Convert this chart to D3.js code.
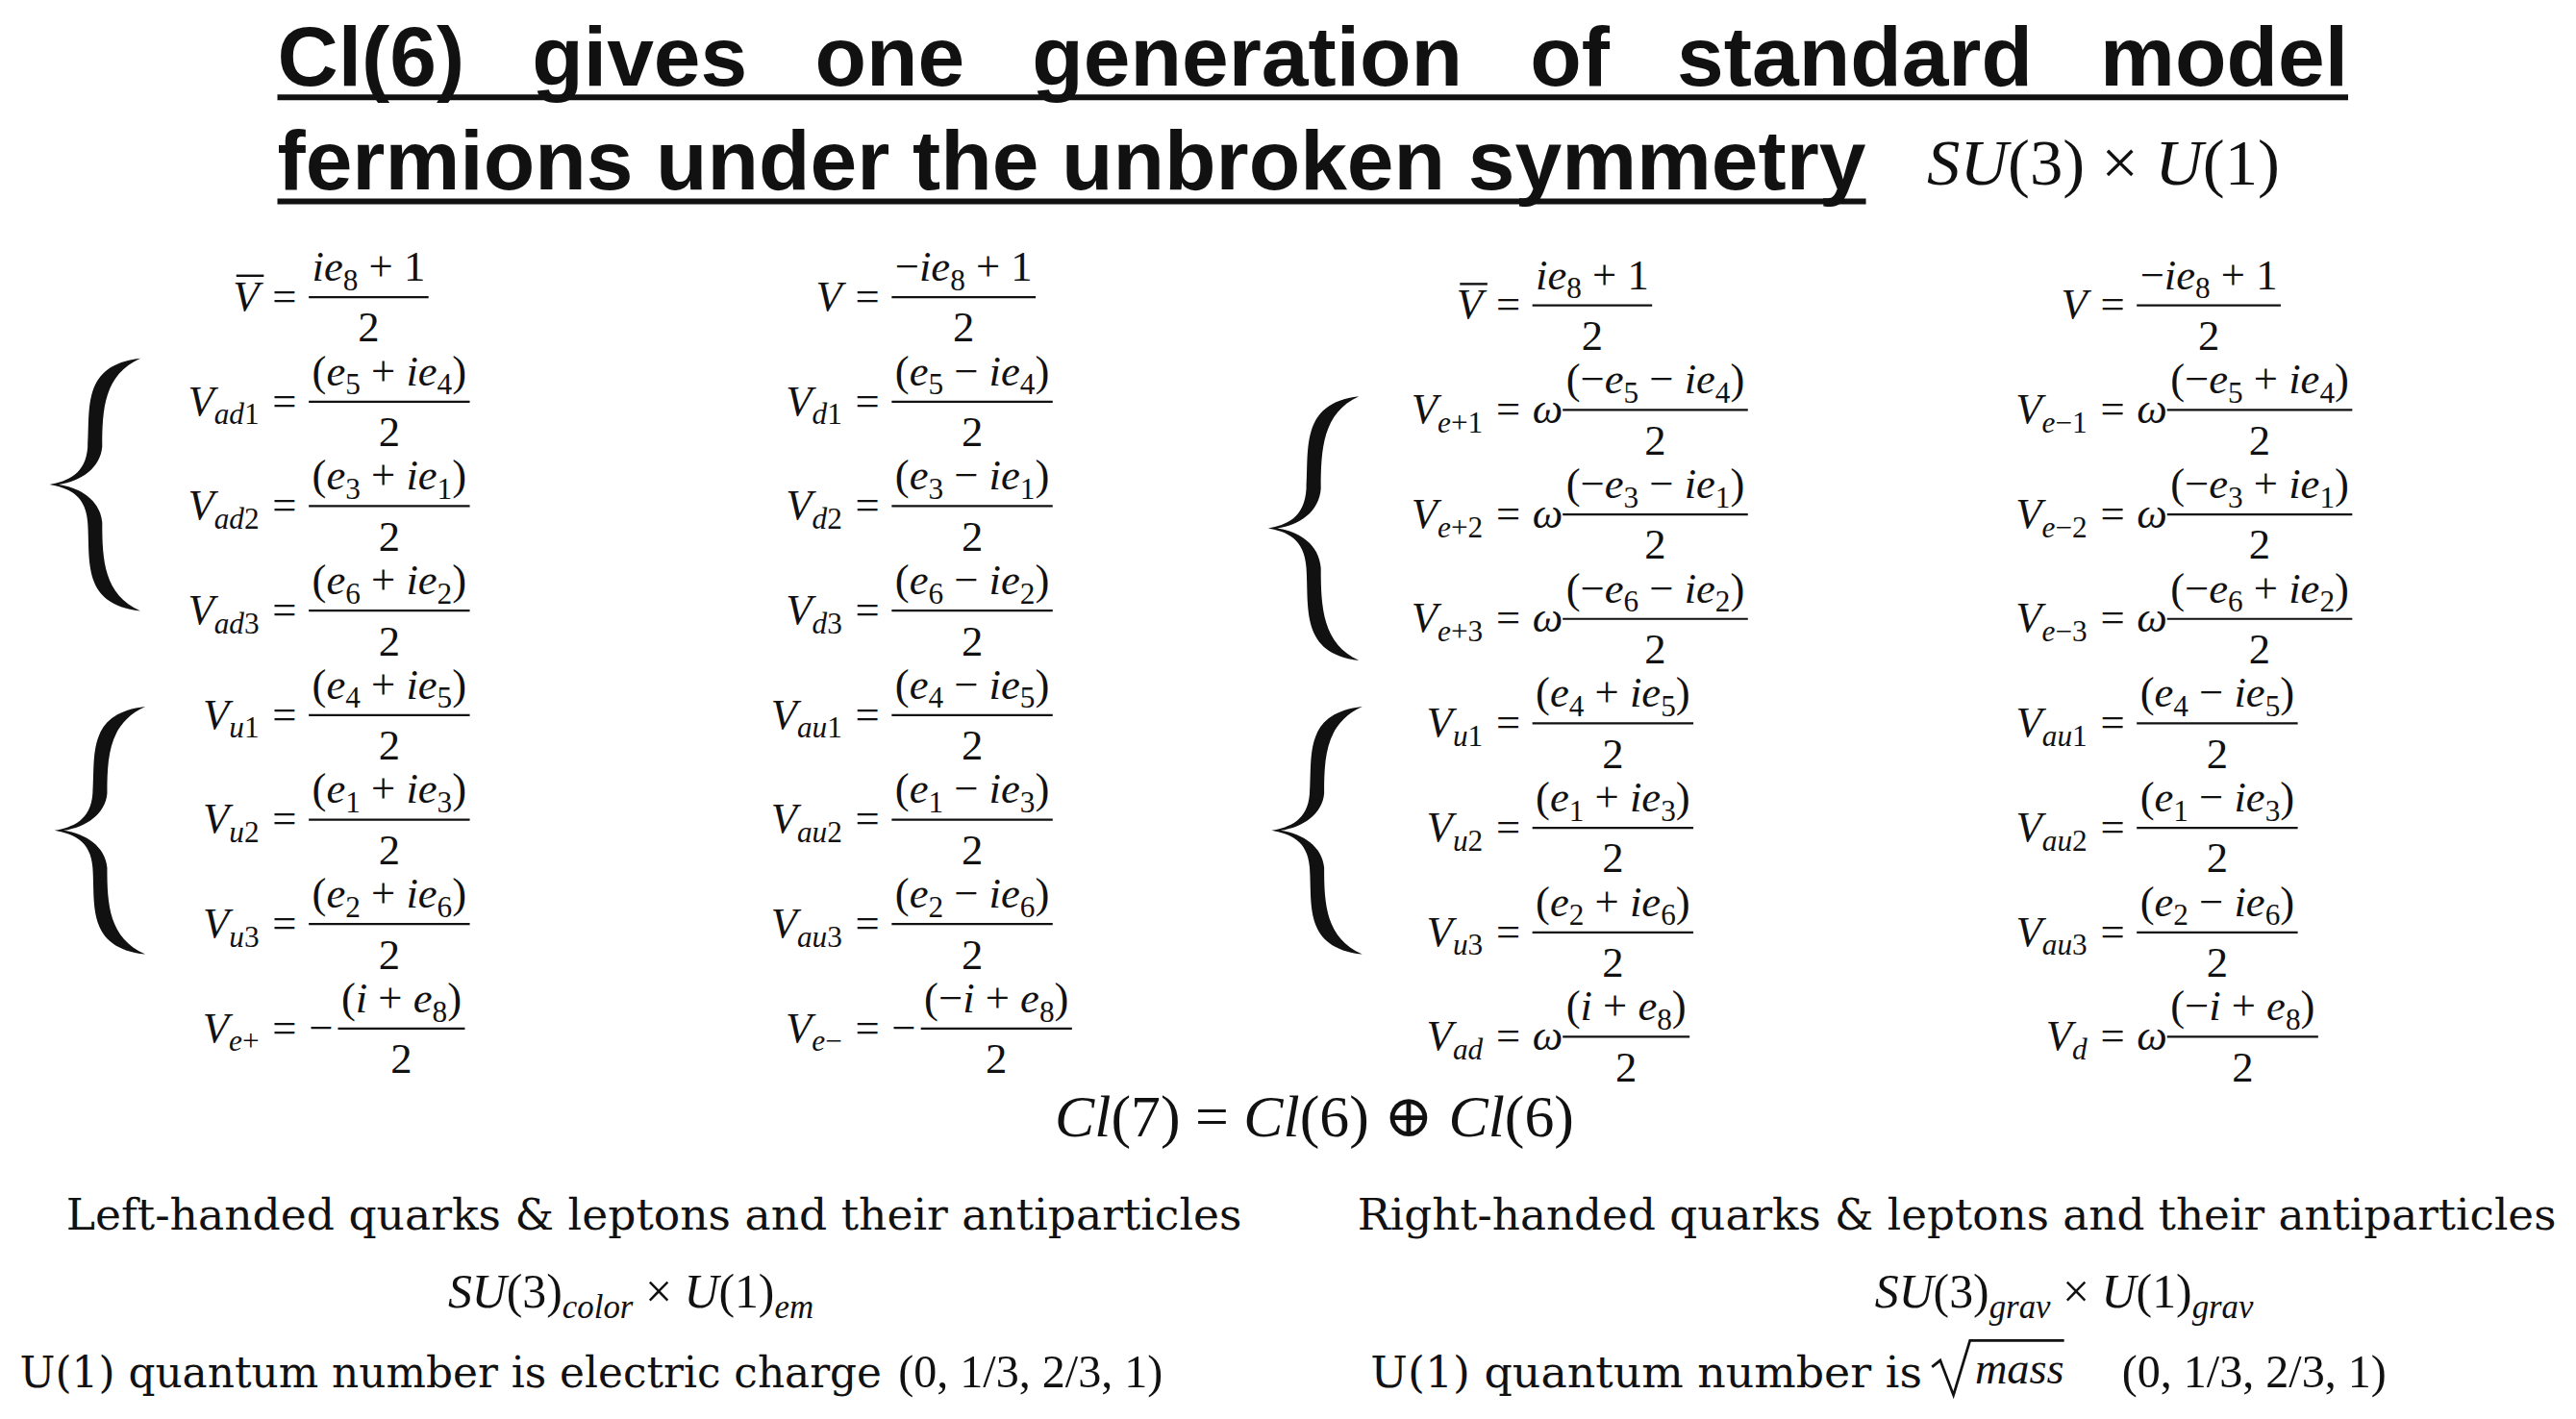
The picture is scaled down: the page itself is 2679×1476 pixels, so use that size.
<!DOCTYPE html>
<html>
<head>
<meta charset="utf-8">
<script src="https://cdn.jsdelivr.net/npm/d3@7"></script>
<style>
  body { margin: 0; background: #fff; }
  text { fill: #111; }
</style>
</head>
<body>
<svg id="slide"></svg>
<script>
// ---- data ----
var col1Names = ["~V", "V_{ad1}", "V_{ad2}", "V_{ad3}", "V_{u1}", "V_{u2}", "V_{u3}", "V_{e+}"];
var col1Pre   = ["", "", "", "", "", "", "", "−"];
var col1Num   = ["ie_8 + 1", "(e_5 + ie_4)", "(e_3 + ie_1)", "(e_6 + ie_2)", "(e_4 + ie_5)", "(e_1 + ie_3)", "(e_2 + ie_6)", "(i + e_8)"];

var col2Names = ["V", "V_{d1}", "V_{d2}", "V_{d3}", "V_{au1}", "V_{au2}", "V_{au3}", "V_{e−}"];
var col2Pre   = ["", "", "", "", "", "", "", "−"];
var col2Num   = ["−ie_8 + 1", "(e_5 − ie_4)", "(e_3 − ie_1)", "(e_6 − ie_2)", "(e_4 − ie_5)", "(e_1 − ie_3)", "(e_2 − ie_6)", "(−i + e_8)"];

var col3Names = ["~V", "V_{e+1}", "V_{e+2}", "V_{e+3}", "V_{u1}", "V_{u2}", "V_{u3}", "V_{ad}"];
var col3Pre   = ["", "ω", "ω", "ω", "", "", "", "ω"];
var col3Num   = ["ie_8 + 1", "(−e_5 − ie_4)", "(−e_3 − ie_1)", "(−e_6 − ie_2)", "(e_4 + ie_5)", "(e_1 + ie_3)", "(e_2 + ie_6)", "(i + e_8)"];

var col4Names = ["V", "V_{e−1}", "V_{e−2}", "V_{e−3}", "V_{au1}", "V_{au2}", "V_{au3}", "V_d"];
var col4Pre   = ["", "ω", "ω", "ω", "", "", "", "ω"];
var col4Num   = ["−ie_8 + 1", "(−e_5 + ie_4)", "(−e_3 + ie_1)", "(−e_6 + ie_2)", "(e_4 − ie_5)", "(e_1 − ie_3)", "(e_2 − ie_6)", "(−i + e_8)"];

var titleLines = ["Cl(6) gives one generation of standard model", "fermions under the unbroken symmetry"];
var bottomLeft = ["Left-handed quarks & leptons and their antiparticles", "SU(3)_{color} × U(1)_{em}", "U(1) quantum number is electric charge", "(0, 1/3, 2/3, 1)"];
var bottomRight = ["Right-handed quarks & leptons and their antiparticles", "SU(3)_{grav} × U(1)_{grav}", "U(1) quantum number is", "(0, 1/3, 2/3, 1)"];

var W = 2679, H = 1476, S = W / 1560;
var MATH = "'Liberation Serif', 'DejaVu Serif', serif";

var svg = d3.select("#slide").attr("width", W).attr("height", H);
var g = svg.append("g").attr("transform", "scale(" + S + ")");

// write a math string into a text element: letters italic, "_" subscripts
function mathText(sel, str, size) {
  var off = 0, i = 0;
  function put(s, sub) {
    var parts = s.match(/[A-Za-zα-ω]+|[^A-Za-zα-ω]+/g) || [];
    parts.forEach(function(p, k) {
      var t = sel.append("tspan").text(p)
        .attr("font-style", /[A-Za-zα-ω]/.test(p) ? "italic" : "normal")
        .attr("font-size", sub ? size * 0.7 : size);
      var want = sub ? size * 0.22 : 0;
      if (k === 0 && want !== off) { t.attr("dy", want - off); off = want; }
    });
  }
  while (i < str.length) {
    if (str[i] === "_") {
      var s;
      if (str[i + 1] === "{") { var j = str.indexOf("}", i); s = str.slice(i + 2, j); i = j + 1; }
      else { s = str[i + 1]; i += 2; }
      put(s, true);
    } else {
      var j2 = str.indexOf("_", i); if (j2 < 0) j2 = str.length;
      put(str.slice(i, j2), false); i = j2;
    }
  }
  return sel;
}

// ---- title ----
var titleY = d3.scaleLinear().domain([0, 1]).range([52, 115]);
var titleW = [1422 - 168, 1130 - 168];
titleLines.forEach(function(t, k) {
  var words = t.split(" ");
  var ws = words.map(function(w) {
    return g.append("text").attr("y", titleY(k))
      .attr("font-family", "'Liberation Sans', Arial, sans-serif").attr("font-weight", "bold")
      .attr("font-size", 51).text(w);
  });
  var lens = ws.map(function(s) { return s.node().getComputedTextLength(); });
  var total = d3.sum(lens);
  var scale = Math.min(1, titleW[k] / (total + 12 * (words.length - 1)));
  var gap = (titleW[k] - total * scale) / (words.length - 1);
  var x = 168;
  ws.forEach(function(s, i) {
    s.attr("x", x);
    if (scale < 1) s.attr("textLength", lens[i] * scale).attr("lengthAdjust", "spacingAndGlyphs");
    x += lens[i] * scale + gap;
  });
  g.append("line").attr("x1", 168).attr("x2", 168 + titleW[k])
    .attr("y1", titleY(k) + 7).attr("y2", titleY(k) + 7).attr("stroke", "#111").attr("stroke-width", 3.5);
});
mathText(g.append("text").attr("x", 1167).attr("y", 112).attr("font-family", MATH), "SU(3) × U(1)", 40);

// ---- equation columns ----
var cols = [
  { names: col1Names, pre: col1Pre, num: col1Num, eq: 165, y0: 0 },
  { names: col2Names, pre: col2Pre, num: col2Num, eq: 518, y0: 0 },
  { names: col3Names, pre: col3Pre, num: col3Num, eq: 906, y0: 5 },
  { names: col4Names, pre: col4Pre, num: col4Num, eq: 1272, y0: 5 }
];
var rowY = d3.scaleLinear().domain([0, 7]).range([180, 623]);
var FS = 26;

cols.forEach(function(c) {
  c.names.forEach(function(n, r) {
    var cy = rowY(r) + c.y0;
    var over = n[0] === "~"; if (over) n = n.slice(1);
    var lhs = g.append("text").attr("x", c.eq - 8).attr("y", cy + 8)
      .attr("text-anchor", "end").attr("font-family", MATH);
    mathText(lhs, n, FS);
    if (over) {
      var bb = lhs.node().getBBox();
      g.append("line").attr("x1", bb.x + 2).attr("x2", bb.x + bb.width)
        .attr("y1", cy - 13).attr("y2", cy - 13).attr("stroke", "#111").attr("stroke-width", 1.4);
    }
    g.append("text").attr("x", c.eq).attr("y", cy + 8).attr("font-family", MATH)
      .attr("font-size", FS).text("=");
    var x = c.eq + 22;
    if (c.pre[r]) {
      var p = g.append("text").attr("x", x).attr("y", cy + 8).attr("font-family", MATH)
        .attr("font-size", FS).attr("font-style", c.pre[r] === "ω" ? "italic" : "normal").text(c.pre[r]);
      x += p.node().getComputedTextLength() + (c.pre[r] === "ω" ? 0 : 3);
    }
    var num = g.append("text").attr("x", x + 2).attr("y", cy - 10).attr("font-family", MATH);
    mathText(num, c.num[r], FS);
    var w = num.node().getComputedTextLength() + 4;
    g.append("line").attr("x1", x).attr("x2", x + w).attr("y1", cy).attr("y2", cy)
      .attr("stroke", "#111").attr("stroke-width", 1.3);
    g.append("text").attr("x", x + w / 2).attr("y", cy + 27).attr("text-anchor", "middle")
      .attr("font-family", MATH).attr("font-size", FS).text("2");
  });
});

// ---- braces ----
function brace(x, y1, y2) {
  var m = (y1 + y2) / 2, w = 55, h = y2 - y1;
  var d = "M" + (x + w) + "," + y1 +
    " C" + (x + w * 0.35) + "," + (y1 + 4) + " " + (x + w * 0.45) + "," + (y1 + h * 0.2) + " " + (x + w * 0.42) + "," + (y1 + h * 0.35) +
    " C" + (x + w * 0.4) + "," + (m - 6) + " " + (x + w * 0.2) + "," + (m - 2) + " " + x + "," + m +
    " C" + (x + w * 0.2) + "," + (m + 2) + " " + (x + w * 0.4) + "," + (m + 6) + " " + (x + w * 0.42) + "," + (y2 - h * 0.35) +
    " C" + (x + w * 0.45) + "," + (y2 - h * 0.2) + " " + (x + w * 0.35) + "," + (y2 - 4) + " " + (x + w) + "," + y2 +
    " C" + (x + w * 0.6) + "," + (y2 - 10) + " " + (x + w * 0.58) + "," + (y2 - h * 0.2) + " " + (x + w * 0.58) + "," + (y2 - h * 0.35) +
    " C" + (x + w * 0.56) + "," + (m + 10) + " " + (x + w * 0.35) + "," + (m + 2) + " " + (x + w * 0.1) + "," + m +
    " C" + (x + w * 0.35) + "," + (m - 2) + " " + (x + w * 0.56) + "," + (m - 10) + " " + (x + w * 0.58) + "," + (y1 + h * 0.35) +
    " C" + (x + w * 0.58) + "," + (y1 + h * 0.2) + " " + (x + w * 0.6) + "," + (y1 + 10) + " " + (x + w) + "," + y1 + " Z";
  g.append("path").attr("d", d).attr("fill", "#111");
}
brace(30, 217, 370);
brace(33, 428, 578);
brace(768, 240, 400);
brace(770, 428, 578);

// ---- bottom text ----
mathText(g.append("text").attr("x", 796).attr("y", 688).attr("text-anchor", "middle").attr("font-family", MATH),
  "Cl(7) = Cl(6) ⊕ Cl(6)", 36);

var BODY = "'DejaVu Serif', 'Liberation Serif', serif";
g.append("text").attr("x", 40).attr("y", 745).attr("font-family", BODY).attr("font-size", 26)
  .attr("textLength", 712).attr("lengthAdjust", "spacingAndGlyphs").text(bottomLeft[0]);
g.append("text").attr("x", 822).attr("y", 745).attr("font-family", BODY).attr("font-size", 26)
  .attr("textLength", 726).attr("lengthAdjust", "spacingAndGlyphs").text(bottomRight[0]);
mathText(g.append("text").attr("x", 382).attr("y", 792).attr("text-anchor", "middle").attr("font-family", MATH), bottomLeft[1], 29);
mathText(g.append("text").attr("x", 1250).attr("y", 792).attr("text-anchor", "middle").attr("font-family", MATH), bottomRight[1], 29);

g.append("text").attr("x", 12).attr("y", 840).attr("font-family", BODY).attr("font-size", 26)
  .attr("textLength", 522).attr("lengthAdjust", "spacingAndGlyphs").text(bottomLeft[2]);
mathText(g.append("text").attr("x", 544).attr("y", 840).attr("font-family", MATH), bottomLeft[3], 28);
g.append("text").attr("x", 830).attr("y", 840).attr("font-family", BODY).attr("font-size", 26)
  .attr("textLength", 334).attr("lengthAdjust", "spacingAndGlyphs").text(bottomRight[2]);
// sqrt(mass)
g.append("path").attr("d", "M1170,828 L1175,824 L1183,845 L1193,812 L1250,812")
  .attr("fill", "none").attr("stroke", "#111").attr("stroke-width", 1.6);
g.append("text").attr("x", 1196).attr("y", 838).attr("font-family", MATH).attr("font-style", "italic")
  .attr("font-size", 27).text("mass");
mathText(g.append("text").attr("x", 1285).attr("y", 840).attr("font-family", MATH), bottomRight[3], 28);
</script>
</body>
</html>
